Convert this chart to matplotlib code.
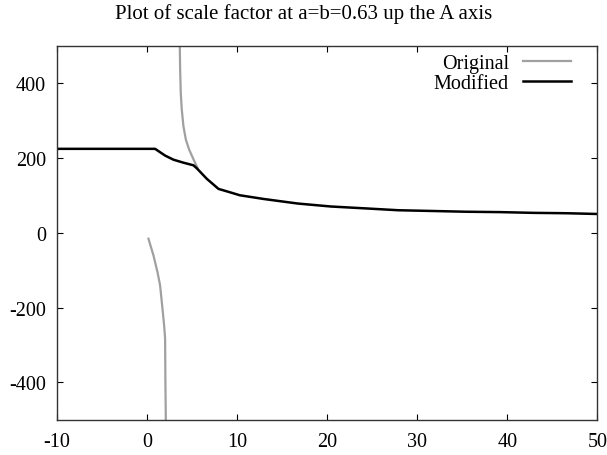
import numpy as np
import matplotlib
matplotlib.use('Agg')
import matplotlib.pyplot as plt

# values
orig_low_x = [0.15, 0.70, 1.15, 1.44, 1.67, 1.89, 2.00, 2.03, 2.08]
orig_low_y = [-16, -60, -105, -140, -194, -247, -283, -389, -500]

orig_up_x = [3.63, 3.67, 3.74, 3.85, 4.04, 4.30, 4.67, 5.15, 5.60]
orig_up_y = [500, 435, 373, 329, 284, 249, 222, 196, 173]

mod_x = [-10, 0.89, 2.0, 2.93, 4.04, 5.15, 5.52, 6.63, 7.93, 9.2, 10.3,
         12.97, 16.7, 20.4, 24.2, 27.9, 31.7, 35.4, 39.2, 42.9, 46.6, 50]
mod_y = [224, 224, 206, 195, 187, 180, 172, 144, 117, 108, 100,
         90, 78, 70, 65, 60, 58, 56, 55, 53, 52, 50]

xticks = [-10, 0, 10, 20, 30, 40, 50]
yticks = [-400, -200, 0, 200, 400]

plt.rcParams['font.family'] = ['Liberation Serif', 'DejaVu Serif']
plt.rcParams['axes.unicode_minus'] = False

fig = plt.figure(figsize=(6.07, 4.56), dpi=100)
ax = fig.add_axes([0.094, 0.077, 0.890, 0.821])

grey = '#a0a0a0'
ax.plot(orig_low_x, orig_low_y, color=grey, lw=1.6, label='Original')
ax.plot(orig_up_x, orig_up_y, color=grey, lw=1.6)
ax.plot(mod_x, mod_y, color='black', lw=1.8, label='Modified')

ax.set_xlim(-10, 50)
ax.set_ylim(-500, 500)
ax.set_xticks(xticks)
ax.set_yticks(yticks)
ax.tick_params(direction='in', length=4, width=0.8, top=True, right=True,
               labelsize=14.5)
ax.tick_params(axis='x', pad=8.5)
ax.tick_params(axis='y', pad=8)
for s in ax.spines.values():
    s.set_color('#333333')
    s.set_linewidth(1.0)

fig.text(0.5, 0.969, 'Plot of scale factor at a=b=0.63 up the A axis',
         ha='center', va='center', fontsize=15)

ax.legend(loc='upper right', bbox_to_anchor=(0.967, 1.0), frameon=False,
          markerfirst=False, fontsize=14.5, handlelength=2.4,
          handletextpad=0.7, labelspacing=0.05, borderaxespad=0)

fig.savefig('out.png', dpi=100)
